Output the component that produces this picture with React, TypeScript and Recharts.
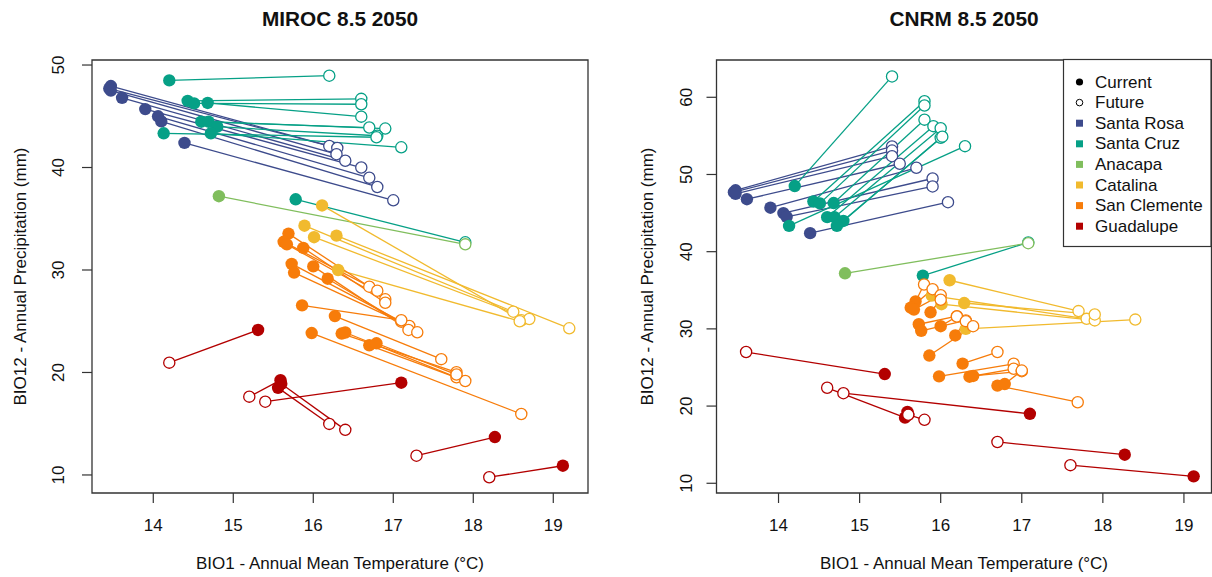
import React from 'react';
import { ScatterChart, Scatter, XAxis, YAxis, ReferenceArea } from 'recharts';

type Pt = [number, number];

// Islands and their colours
const islands = ['Santa Rosa', 'Santa Cruz', 'Anacapa', 'Catalina', 'San Clemente', 'Guadalupe'];
const islandColors = ['#3D4B8C', '#06A086', '#80BE5D', '#F1BA2E', '#F77C0A', '#B30000'];

// Current climate (BIO1 °C, BIO12 mm) per population
const santaRosaCurrent: Pt[] = [[13.47, 47.95], [13.45, 47.7], [13.47, 47.5], [13.61, 46.8], [13.9, 45.7], [14.06, 45.0], [14.1, 44.5], [14.39, 42.4]];
const santaCruzCurrent: Pt[] = [[14.2, 48.5], [14.43, 46.5], [14.51, 46.26], [14.68, 46.3], [14.6, 44.47], [14.69, 44.47], [14.8, 43.98], [14.13, 43.34], [14.72, 43.34], [15.78, 36.9]];
const anacapaCurrent: Pt[] = [[14.82, 37.2]];
const catalinaCurrent: Pt[] = [[16.11, 36.3], [15.89, 34.32], [16.01, 33.2], [16.29, 33.35], [16.31, 30.0]];
const sanClementeCurrent: Pt[] = [[15.69, 33.55], [15.63, 32.75], [15.67, 32.5], [15.875, 32.15], [15.73, 30.6], [15.76, 29.75], [16.0, 30.35], [16.18, 29.15], [15.86, 26.55], [16.27, 25.5], [15.98, 23.85], [16.355, 23.8], [16.4, 23.9], [16.7, 22.65], [16.79, 22.85]];
const guadalupeCurrent: Pt[] = [[15.31, 24.15], [15.59, 19.25], [15.56, 18.5], [15.6, 18.9], [17.1, 19.0], [18.27, 13.7], [19.12, 10.9]];

// MIROC 8.5 2050 projections, same order as the current arrays
const santaRosaMiroc: Pt[] = [[16.2, 42.1], [16.3, 41.9], [16.29, 41.3], [16.4, 40.66], [16.6, 40.0], [16.7, 39.0], [16.8, 38.1], [17.0, 36.8]];
const santaCruzMiroc: Pt[] = [[16.2, 48.96], [16.6, 46.7], [16.6, 46.17], [16.6, 44.96], [16.7, 43.9], [16.9, 43.8], [16.8, 43.1], [16.79, 42.95], [17.1, 41.97], [17.9, 32.7]];
const anacapaMiroc: Pt[] = [[17.9, 32.5]];
const catalinaMiroc: Pt[] = [[18.6, 25.1], [18.5, 25.93], [18.7, 25.22], [19.2, 24.31], [18.58, 25.0]];
const sanClementeMiroc: Pt[] = [[16.7, 28.37], [16.8, 27.98], [16.9, 27.14], [16.9, 26.8], [17.1, 24.96], [17.2, 24.54], [17.19, 24.15], [17.3, 23.92], [17.1, 25.1], [17.6, 21.3], [18.6, 15.95], [17.79, 20.02], [17.79, 19.53], [17.9, 19.17], [17.79, 19.8]];
const guadalupeMiroc: Pt[] = [[14.2, 20.96], [15.2, 17.64], [16.2, 14.98], [16.4, 14.4], [15.4, 17.15], [17.29, 11.88], [18.2, 9.78]];

// CNRM 8.5 2050 projections, same order as the current arrays
const santaRosaCnrm: Pt[] = [[15.4, 53.63], [15.4, 53.1], [15.4, 52.37], [15.495, 51.39], [15.7, 50.87], [15.9, 49.48], [15.9, 48.45], [16.09, 46.41]];
const santaCruzCnrm: Pt[] = [[15.4, 62.7], [15.8, 59.5], [15.8, 58.94], [15.8, 57.1], [15.91, 56.26], [16.0, 56.0], [16.0, 54.75], [16.3, 53.67], [16.02, 54.9], [17.08, 41.2]];
const anacapaCnrm: Pt[] = [[17.08, 41.1]];
const catalinaCnrm: Pt[] = [[17.7, 32.3], [17.8, 31.3], [17.9, 31.1], [17.9, 31.87], [18.4, 31.2]];
const sanClementeCnrm: Pt[] = [[15.795, 35.75], [15.9, 35.14], [16.0, 34.36], [16.0, 33.77], [16.2, 31.65], [16.31, 31.1], [16.2, 31.6], [16.31, 31.0], [16.4, 30.35], [16.7, 27.0], [16.9, 25.48], [16.9, 24.83], [17.0, 24.52], [17.69, 20.5], [17.0, 24.6]];
const guadalupeCnrm: Pt[] = [[13.6, 27.0], [15.6, 18.87], [14.6, 22.37], [15.8, 18.22], [14.8, 21.67], [16.7, 15.35], [17.6, 12.35]];

// Axis ticks
const xTicks = [14, 15, 16, 17, 18, 19];
const mirocYTicks = [10, 20, 30, 40, 50];
const cnrmYTicks = [10, 20, 30, 40, 50, 60];

const currentByIsland = [santaRosaCurrent, santaCruzCurrent, anacapaCurrent, catalinaCurrent, sanClementeCurrent, guadalupeCurrent];
const mirocByIsland = [santaRosaMiroc, santaCruzMiroc, anacapaMiroc, catalinaMiroc, sanClementeMiroc, guadalupeMiroc];
const cnrmByIsland = [santaRosaCnrm, santaCruzCnrm, anacapaCnrm, catalinaCnrm, sanClementeCnrm, guadalupeCnrm];

const FONT = '"Liberation Sans", Arial, Helvetica, sans-serif';
const INK = '#111';
const FRAME = '#333';

type Datum = { x: number; y: number; color: string };

function buildPanelData(futures: Pt[][]) {
  const segments: { key: string; color: string; points: Datum[] }[] = [];
  const current: Datum[] = [];
  const future: Datum[] = [];
  currentByIsland.forEach((pts, i) => {
    const color = islandColors[i];
    pts.forEach((c, j) => {
      const f = futures[i][j];
      const a = { x: c[0], y: c[1], color };
      const b = { x: f[0], y: f[1], color };
      segments.push({ key: `${i}-${j}`, color, points: [a, b] });
      current.push(a);
      future.push(b);
    });
  });
  return { segments, current, future };
}

const EmptyShape = () => <g />;
const FilledDot = (p: any) => <circle cx={p.cx} cy={p.cy} r={6.2} fill={p.payload.color} />;
const OpenDot = (p: any) => (
  <circle cx={p.cx} cy={p.cy} r={5.6} fill="#fff" stroke={p.payload.color} strokeWidth={1.3} />
);

type PanelCfg = {
  title: string;
  futures: Pt[][];
  xDomain: [number, number];
  yDomain: [number, number];
  yTicks: number[];
  left: number;
  plotLeft: number;
  plotRight: number;
  yLabelOffset: number;
  yTitleOffset: number;
};

const W = 606;
const H = 577;
const PLOT_TOP = 60;
const PLOT_BOTTOM = 493;

const panels: PanelCfg[] = [
  {
    title: 'MIROC 8.5 2050',
    futures: mirocByIsland,
    xDomain: [13.234, 19.434],
    yDomain: [8.24, 50.49],
    yTicks: mirocYTicks,
    left: 0,
    plotLeft: 92,
    plotRight: 588,
    yLabelOffset: 33,
    yTitleOffset: 72,
  },
  {
    title: 'CNRM 8.5 2050',
    futures: cnrmByIsland,
    xDomain: [13.235, 19.34],
    yDomain: [8.74, 64.83],
    yTicks: cnrmYTicks,
    left: 606,
    plotLeft: 110.5,
    plotRight: 605.5,
    yLabelOffset: 30,
    yTitleOffset: 69,
  },
];

const makeXTick = () => (p: any) => (
  <text x={p.x} y={PLOT_BOTTOM + 32} textAnchor="middle" dominantBaseline="central" fontSize={17} fontFamily={FONT} fill={INK}>
    {p.payload.value}
  </text>
);

const makeYTick = (cfg: PanelCfg) => (p: any) => {
  const cx = cfg.plotLeft - cfg.yLabelOffset;
  return (
    <text x={cx} y={p.y} transform={`rotate(-90, ${cx}, ${p.y})`} textAnchor="middle" dominantBaseline="central" fontSize={17} fontFamily={FONT} fill={INK}>
      {p.payload.value}
    </text>
  );
};

function Panel({ cfg }: { cfg: PanelCfg }) {
  const { segments, current, future } = buildPanelData(cfg.futures);
  return (
    <div style={{ position: 'absolute', left: cfg.left, top: 0, width: W, height: H }}>
      <ScatterChart width={W} height={H} margin={{ top: PLOT_TOP, right: W - cfg.plotRight, bottom: 0, left: 0 }}>
        <XAxis
          type="number"
          dataKey="x"
          domain={cfg.xDomain}
          ticks={xTicks}
          interval={0}
          allowDataOverflow
          height={H - PLOT_BOTTOM}
          axisLine={false}
          tickSize={10}
          tickLine={{ stroke: FRAME, strokeWidth: 1.2 }}
          tick={makeXTick()}
        />
        <YAxis
          type="number"
          dataKey="y"
          domain={cfg.yDomain}
          ticks={cfg.yTicks}
          interval={0}
          allowDataOverflow
          width={cfg.plotLeft}
          axisLine={false}
          tickSize={10}
          tickLine={{ stroke: FRAME, strokeWidth: 1.2 }}
          tick={makeYTick(cfg)}
        />
        {segments.map((s) => (
          <Scatter
            key={s.key}
            data={s.points}
            line={{ stroke: s.color, strokeWidth: 1.3 }}
            shape={EmptyShape}
            isAnimationActive={false}
          />
        ))}
        <Scatter data={current} shape={FilledDot} isAnimationActive={false} />
        <Scatter data={future} shape={OpenDot} isAnimationActive={false} />
        <ReferenceArea
          x1={cfg.xDomain[0]}
          x2={cfg.xDomain[1]}
          y1={cfg.yDomain[0]}
          y2={cfg.yDomain[1]}
          fill="none"
          fillOpacity={0}
          stroke={FRAME}
          strokeWidth={1.3}
        />
      </ScatterChart>
    </div>
  );
}

const legendKinds = ['Current', 'Future'];

function Overlay() {
  const rowY = (i: number) => 82 + i * 20.6;
  return (
    <svg width={1212} height={577} style={{ position: 'absolute', left: 0, top: 0, pointerEvents: 'none' }}>
      {panels.map((cfg) => {
        const cx = cfg.left + (cfg.plotLeft + cfg.plotRight) / 2;
        const tx = cfg.left + cfg.plotLeft - cfg.yTitleOffset;
        const ty = (PLOT_TOP + PLOT_BOTTOM) / 2;
        return (
          <g key={cfg.title}>
            <text x={cx} y={18} textAnchor="middle" dominantBaseline="central" fontSize={20.8} fontWeight="bold" fontFamily={FONT} fill={INK}>
              {cfg.title}
            </text>
            <text x={cx} y={563} textAnchor="middle" dominantBaseline="central" fontSize={17} fontFamily={FONT} fill={INK}>
              BIO1 - Annual Mean Temperature (°C)
            </text>
            <text x={tx} y={ty} transform={`rotate(-90, ${tx}, ${ty})`} textAnchor="middle" dominantBaseline="central" fontSize={17} fontFamily={FONT} fill={INK}>
              BIO12 - Annual Precipitation (mm)
            </text>
          </g>
        );
      })}
      <g>
        <rect x={1063.5} y={59.5} width={147.5} height={187} fill="#fff" stroke={FRAME} strokeWidth={1.2} />
        {legendKinds.map((k, i) => (
          <g key={k}>
            {i === 0 ? (
              <circle cx={1079.5} cy={rowY(i)} r={3.6} fill="#000" />
            ) : (
              <circle cx={1079.5} cy={rowY(i)} r={3.3} fill="#fff" stroke="#000" strokeWidth={1} />
            )}
            <text x={1095} y={rowY(i)} dominantBaseline="central" fontSize={17} fontFamily={FONT} fill={INK}>
              {k}
            </text>
          </g>
        ))}
        {islands.map((name, i) => (
          <g key={name}>
            <rect x={1076} y={rowY(i + 2) - 3.5} width={7} height={7} fill={islandColors[i]} />
            <text x={1095} y={rowY(i + 2)} dominantBaseline="central" fontSize={17} fontFamily={FONT} fill={INK}>
              {name}
            </text>
          </g>
        ))}
      </g>
    </svg>
  );
}

export default function App() {
  return (
    <div style={{ position: 'absolute', left: 0, top: 0, width: 1212, height: 577, background: '#fff', fontFamily: FONT }}>
      {panels.map((cfg) => (
        <Panel key={cfg.title} cfg={cfg} />
      ))}
      <Overlay />
    </div>
  );
}
